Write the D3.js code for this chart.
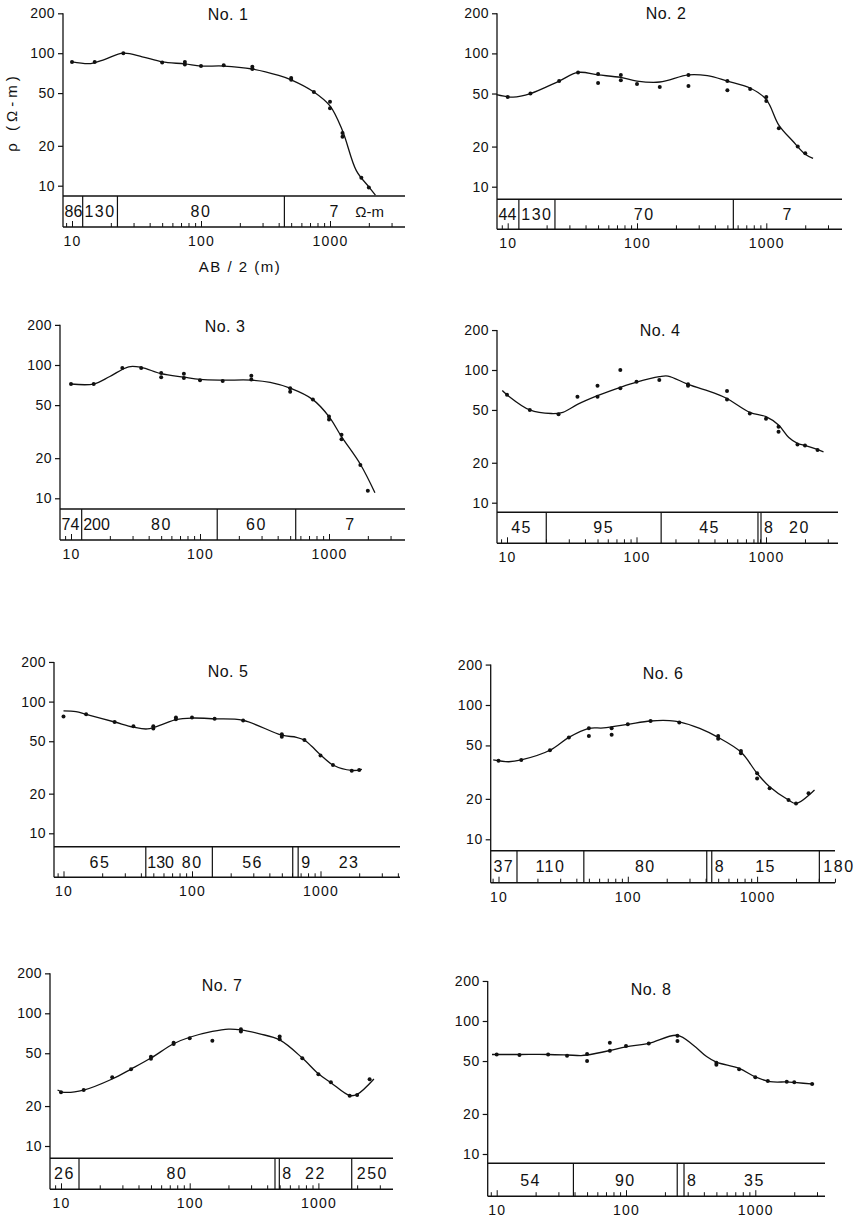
<!DOCTYPE html>
<html lang="en">
	<head>
		<meta charset="utf-8">
		<title>Resistivity sounding curves No. 1 - 8</title>
		<script type="text/javascript" src="https://cdn.jsdelivr.net/npm/d3@7/dist/d3.min.js"></script>
		<style type="text/css">
			body{
				margin: 0;
				background: #fff;
			}
			text{
				font-family: "Liberation Sans", Arial, sans-serif;
				fill: #111;
			}
			.tick line{
				stroke: #111;
			}
		</style>
	</head>
	<body>
		<script type="text/javascript">

			//Panel titles
			var titles = ["No. 1", "No. 2", "No. 3", "No. 4", "No. 5", "No. 6", "No. 7", "No. 8"];

			//Y tick values (apparent resistivity, ohm-m)
			var rhoTicks = [10, 20, 50, 100, 200];
			//X tick labels (AB/2, m)
			var abLabels = [10, 100, 1000];

			//Observed points: AB/2 (m) and rho (ohm-m)
			var obs1X = [10, 15, 25, 50, 75, 75, 100, 150, 250, 250, 500, 500, 750, 1000, 1000, 1250, 1250, 1750, 2000];
			var obs1R = [86, 86, 100, 85, 86, 82, 80, 81, 79, 76, 65, 63, 51, 43, 38.5, 25, 23.4, 11.5, 9.7];
			var obs2X = [10, 15, 25, 35, 50, 50, 75, 75, 100, 150, 250, 250, 500, 500, 750, 1000, 1000, 1250, 1750, 2000];
			var obs2R = [47, 50, 62, 72, 70, 60, 69, 63, 59, 56, 69, 57, 62, 53, 54, 47, 44, 27.4, 20, 17.8];
			var obs3X = [10, 15, 25, 35, 50, 50, 75, 75, 100, 150, 250, 250, 500, 500, 750, 1000, 1000, 1250, 1250, 1750, 2000];
			var obs3R = [72, 72, 95, 95, 87, 81, 86, 80, 77, 76, 83, 78, 67, 63, 55, 41, 39, 30, 27.7, 17.8, 11.4];
			var obs4X = [10, 15, 25, 35, 50, 50, 75, 75, 100, 150, 250, 250, 500, 500, 750, 1000, 1250, 1250, 1750, 2000, 2500];
			var obs4R = [65, 50, 46.4, 63, 76, 63, 100, 73, 81.5, 84, 78, 76, 69.5, 60, 47, 43, 37.4, 34.3, 27.5, 27, 25];
			var obs5X = [10, 15, 25, 35, 50, 50, 75, 75, 100, 150, 250, 500, 500, 750, 1000, 1250, 1750, 2000];
			var obs5R = [77, 80, 70, 65, 65, 62.6, 75.6, 73.5, 75.6, 74, 72, 56.5, 54, 51, 39, 33, 29.9, 30.3];
			var obs6X = [10, 15, 25, 35, 50, 50, 75, 75, 100, 150, 250, 500, 500, 750, 750, 1000, 1000, 1250, 1750, 2000, 2500];
			var obs6R = [38.5, 39, 46, 57.4, 67, 58.8, 67, 60, 71.8, 76, 74, 58.8, 56, 45.5, 43.7, 31, 28.4, 24, 19.6, 18.5, 22];
			var obs7X = [10, 15, 25, 35, 50, 50, 75, 75, 100, 150, 250, 250, 500, 500, 750, 1000, 1250, 1750, 2000, 2500];
			var obs7R = [25.4, 26.4, 32.9, 37.8, 47, 45.5, 60, 58.8, 64.9, 62, 75.7, 72.8, 66.9, 63.7, 45.8, 34.7, 30.2, 23.9, 24.2, 31.8];
			var obs8X = [10, 15, 25, 35, 50, 50, 75, 75, 100, 150, 250, 250, 500, 500, 750, 1000, 1250, 1750, 2000, 2750];
			var obs8R = [56, 55.5, 56, 54.7, 56.5, 50, 68.6, 59.8, 65, 67.7, 77.6, 70.8, 48.6, 46.8, 43.4, 37.8, 35.4, 35, 34.6, 33.6];

			//Fitted curves (hand drawn in the original)
			var cur1X = [10, 14, 18, 25, 35, 50, 75, 100, 150, 250, 400, 500, 750, 1000, 1250, 1600, 2000, 2250];
			var cur1R = [86, 83.5, 90, 100, 94, 86, 83, 80, 80, 76, 68, 63, 51, 40, 26, 13, 9.8, 8.5];
			var cur2X = [8.2, 11, 15, 25, 35, 50, 75, 100, 150, 250, 350, 500, 750, 1000, 1250, 1600, 2000, 2300];
			var cur2R = [49, 47, 50, 62, 72, 69, 66, 62, 61, 69, 68, 62, 55, 45, 29, 22, 17.5, 16.3];
			var cur3X = [10, 15, 20, 28, 35, 50, 75, 100, 150, 250, 350, 500, 750, 1000, 1250, 1750, 2270];
			var cur3R = [72, 72, 82, 97, 96, 86, 81, 78, 77, 77, 74, 67, 55, 41, 29, 18, 11];
			var cur4X = [9.2, 10, 15, 22, 27, 35, 50, 75, 100, 150, 175, 250, 400, 500, 750, 1000, 1250, 1500, 1750, 2000, 2780];
			var cur4R = [70, 65, 50, 47, 48, 55, 64, 74, 81, 89, 90, 78, 67, 61, 48, 44.5, 38.5, 31, 28, 27, 24.2];
			var cur5X = [10, 12.5, 15, 25, 35, 45, 61, 75, 100, 150, 250, 500, 650, 750, 850, 1000, 1250, 1750, 2100];
			var cur5R = [85, 84, 80, 70, 64, 62, 68, 73, 75, 74, 72, 55.6, 53.6, 51, 46, 39.4, 33, 30, 30.6];
			var cur6X = [9.1, 12, 15, 25, 35, 50, 65, 100, 150, 210, 250, 360, 500, 750, 1000, 1250, 1750, 2000, 2780];
			var cur6R = [39, 37.8, 39, 46, 57.4, 67, 67.5, 71.8, 76, 76.5, 75, 67, 57.4, 44.6, 31, 24.6, 19.6, 18.5, 23.3];
			var cur7X = [9.4, 10.5, 15, 25, 35, 50, 75, 100, 150, 200, 250, 350, 500, 750, 1000, 1250, 1750, 2000, 2700];
			var cur7R = [26.4, 25.4, 26.4, 32, 38, 46, 59, 66, 73, 76, 75, 70, 63, 46, 35, 30, 24, 24.5, 32];
			var cur8X = [9.2, 15, 25, 35, 45, 50, 75, 100, 150, 250, 330, 420, 500, 750, 1000, 1300, 1750, 2000, 2850];
			var cur8R = [56, 56, 56, 55.5, 55, 55.5, 60, 64, 68, 78, 66, 54, 49, 44, 38, 35, 34.8, 34.5, 33.5];

			//Interpreted layers: resistivities and boundaries (on the AB/2 scale)
			var lay1R = ["86", "130", "80", "7"];
			var lay1B = [12.1, 22.5, 443];
			var lay2R = ["44", "130", "70", "7"];
			var lay2B = [12.2, 23.2, 556];
			var lay3R = ["74", "200", "80", "60", "7"];
			var lay3B = [12.1, 18.6, 136, 552];
			var lay4R = ["45", "95", "45", "8", "20"];
			var lay4B = [20.1, 155, 867, 915];
			var lay5R = ["65", "130", "80", "56", "9", "23"];
			var lay5B = [43.7, 70, 144, 608, 670];
			var lay6R = ["37", "110", "80", "8", "15", "180"];
			var lay6B = [13.9, 45.7, 408, 446, 3030];
			var lay7R = ["26", "80", "8", "22", "250"];
			var lay7B = [13.8, 460, 497, 1815];
			var lay8R = ["54", "90", "8", "35"];
			var lay8B = [39.2, 249, 281];
			//boundaries of thin layers that are not ruled
			var openB = [18.6, 70];

			//Frame of each panel on the page
			var frames = [
				{axisX: 63, x10: 72, xDec: 129, y10: 185.7, yDec: 132.5, top: 196, bot: 227, right: 405, tx: 228, ty: 20},
				{axisX: 497, x10: 507.7, xDec: 129.3, y10: 186.7, yDec: 133.3, top: 199.3, bot: 229.3, right: 842, tx: 666, ty: 19},
				{axisX: 60, x10: 71, xDec: 129, y10: 498.3, yDec: 133.3, top: 509, bot: 540, right: 405, tx: 225, ty: 332},
				{axisX: 497, x10: 507, xDec: 129.5, y10: 502.7, yDec: 132.7, top: 512.3, bot: 543.3, right: 838, tx: 660, ty: 336},
				{axisX: 54, x10: 63.5, xDec: 128.5, y10: 833.3, yDec: 131.7, top: 846.7, bot: 877.3, right: 400, tx: 228, ty: 677},
				{axisX: 490.7, x10: 498.5, xDec: 129.3, y10: 839.3, yDec: 134.3, top: 850.7, bot: 882.7, right: 835, tx: 663, ty: 679},
				{axisX: 50, x10: 61, xDec: 128.7, y10: 1146, yDec: 132.7, top: 1158.3, bot: 1189.3, right: 393, tx: 222, ty: 991},
				{axisX: 487.7, x10: 496.7, xDec: 129.3, y10: 1154, yDec: 133, top: 1163.3, bot: 1196.2, right: 825, tx: 651, ty: 995}
			];

			var obsX = [obs1X, obs2X, obs3X, obs4X, obs5X, obs6X, obs7X, obs8X];
			var obsR = [obs1R, obs2R, obs3R, obs4R, obs5R, obs6R, obs7R, obs8R];
			var curX = [cur1X, cur2X, cur3X, cur4X, cur5X, cur6X, cur7X, cur8X];
			var curR = [cur1R, cur2R, cur3R, cur4R, cur5R, cur6R, cur7R, cur8R];
			var layR = [lay1R, lay2R, lay3R, lay4R, lay5R, lay6R, lay7R, lay8R];
			var layB = [lay1B, lay2B, lay3B, lay4B, lay5B, lay6B, lay7B, lay8B];

			var w = 858;
			var h = 1219;

			var svg = d3.select("body")
						.append("svg")
						.attr("width", w)
						.attr("height", h);

			frames.forEach(function(f, i) {

				var g = svg.append("g");

				//log scales
				var x = d3.scaleLog()
						  .domain([10, 1000])
						  .range([f.x10, f.x10 + 2 * f.xDec]);
				var xs = x.copy()
						  .domain([x.invert(f.axisX), x.invert(f.right)])
						  .range([f.axisX, f.right]);
				var y = d3.scaleLog()
						  .domain([10, 100])
						  .range([f.y10, f.y10 - f.yDec]);

				//title
				g.append("text")
				 .attr("x", f.tx)
				 .attr("y", f.ty)
				 .attr("text-anchor", "middle")
				 .style("font-size", "16px")
				 .style("letter-spacing", "0.5px")
				 .text(titles[i]);

				//y axis
				var yAxis = d3.axisLeft(y)
							  .tickValues(rhoTicks)
							  .tickSize(5)
							  .tickPadding(3)
							  .tickFormat(d3.format("d"));
				var ya = g.append("g")
						  .attr("transform", "translate(" + f.axisX + ",0)")
						  .call(yAxis);
				ya.select(".domain").remove();
				ya.selectAll("text")
				  .style("font-size", "14px")
				  .style("letter-spacing", "0.5px")
				  .style("font-family", "Liberation Sans, Arial, sans-serif")
				  .attr("fill", "#111");
				ya.selectAll("line").attr("stroke-width", 1.2);

				g.append("line")
				 .attr("x1", f.axisX).attr("x2", f.axisX)
				 .attr("y1", y(200)).attr("y2", f.bot)
				 .attr("stroke", "#111")
				 .attr("stroke-width", 1.3);

				//layer box
				g.append("line")
				 .attr("x1", f.axisX).attr("x2", f.right)
				 .attr("y1", f.top).attr("y2", f.top)
				 .attr("stroke", "#111")
				 .attr("stroke-width", 1.5);

				//x axis: minor ticks inside the box
				var minor = xs.ticks().filter(function(d) { return abLabels.indexOf(d) < 0; });
				var xMinor = d3.axisBottom(xs)
							   .tickValues(minor)
							   .tickSize(-4)
							   .tickFormat("");
				var xm = g.append("g")
						  .attr("transform", "translate(0," + f.bot + ")")
						  .call(xMinor);
				xm.select(".domain").remove();

				var xMajor = d3.axisBottom(xs)
							   .tickValues(abLabels)
							   .tickSize(-6)
							   .tickPadding(9)
							   .tickFormat(d3.format("d"));
				var xa = g.append("g")
						  .attr("transform", "translate(0," + f.bot + ")")
						  .call(xMajor);
				xa.select(".domain").remove();
				xa.selectAll("text")
				  .style("font-size", "14px")
				  .style("letter-spacing", "1.2px")
				  .style("font-family", "Liberation Sans, Arial, sans-serif")
				  .attr("fill", "#111");

				g.append("line")
				 .attr("x1", f.axisX).attr("x2", f.right)
				 .attr("y1", f.bot).attr("y2", f.bot)
				 .attr("stroke", "#111")
				 .attr("stroke-width", 1.5);

				//layer boundaries
				g.selectAll("line.bound")
				 .data(layB[i].filter(function(b) { return openB.indexOf(b) < 0; }))
				 .enter()
				 .append("line")
				 .attr("class", "bound")
				 .attr("x1", function(d) { return x(d); })
				 .attr("x2", function(d) { return x(d); })
				 .attr("y1", f.top)
				 .attr("y2", f.bot)
				 .attr("stroke", "#111")
				 .attr("stroke-width", 1.2);

				//layer resistivities
				var edges = [x.invert(f.axisX)].concat(layB[i]).concat([x.invert(f.right)]);
				var nL = layR[i].length;
				layR[i].forEach(function(r, k) {
					var a = x(edges[k]);
					var b = x(edges[k + 1]);
					var t = g.append("text")
							 .attr("y", f.top + 0.68 * (f.bot - f.top))
							 .style("font-size", "16px")
							 .style("letter-spacing", "1.5px")
							 .text(r);
					var tw = t.node().getComputedTextLength();
					if (b - a < 0.5 * tw + 4) {
						//thin layer: the value is written just past its ruling
						var sx = (k === nL - 1) ? a + 4 : b + 3;
						t.attr("x", sx).attr("text-anchor", "start");
					} else if (tw > b - a - 3) {
						//tight cell: close up the figures and start at the left ruling
						t.style("letter-spacing", "0px")
						 .attr("x", a + 1.5)
						 .attr("text-anchor", "start");
					} else {
						var c = x(Math.sqrt(edges[k] * edges[k + 1]));
						if (i === 0 && k === nL - 1) c -= 10;
						t.attr("x", c).attr("text-anchor", "middle");
					}
				});

				//fitted curve
				var line = d3.line()
							 .x(function(d) { return x(d[0]); })
							 .y(function(d) { return y(d[1]); })
							 .curve(d3.curveCatmullRom.alpha(0.5));

				g.append("path")
				 .datum(d3.zip(curX[i], curR[i]))
				 .attr("d", line)
				 .attr("fill", "none")
				 .attr("stroke", "#111")
				 .attr("stroke-width", 1.3);

				//observed points
				g.selectAll("circle")
				 .data(d3.zip(obsX[i], obsR[i]))
				 .enter()
				 .append("circle")
				 .attr("cx", function(d) { return x(d[0]); })
				 .attr("cy", function(d) { return y(d[1]); })
				 .attr("r", 2)
				 .attr("fill", "#111");

				//units and axis names only on the first panel
				if (i === 0) {
					var last = layB[0][layB[0].length - 1];
					g.append("text")
					 .attr("x", x(Math.sqrt(last * x.invert(f.right))) + 25)
					 .attr("y", f.top + 0.68 * (f.bot - f.top))
					 .attr("text-anchor", "middle")
					 .style("font-size", "15px")
					 .text("\u03a9-m");

					g.append("text")
					 .attr("transform", "translate(17,112) rotate(-90)")
					 .attr("text-anchor", "middle")
					 .style("font-size", "15px")
					 .style("letter-spacing", "4px")
					 .text("\u03c1 (\u03a9-m)");

					g.append("text")
					 .attr("x", 240)
					 .attr("y", 272)
					 .attr("text-anchor", "middle")
					 .style("font-size", "15px")
					 .style("letter-spacing", "1.5px")
					 .text("AB / 2 (m)");
				}
			});

		</script>
	</body>
</html>
